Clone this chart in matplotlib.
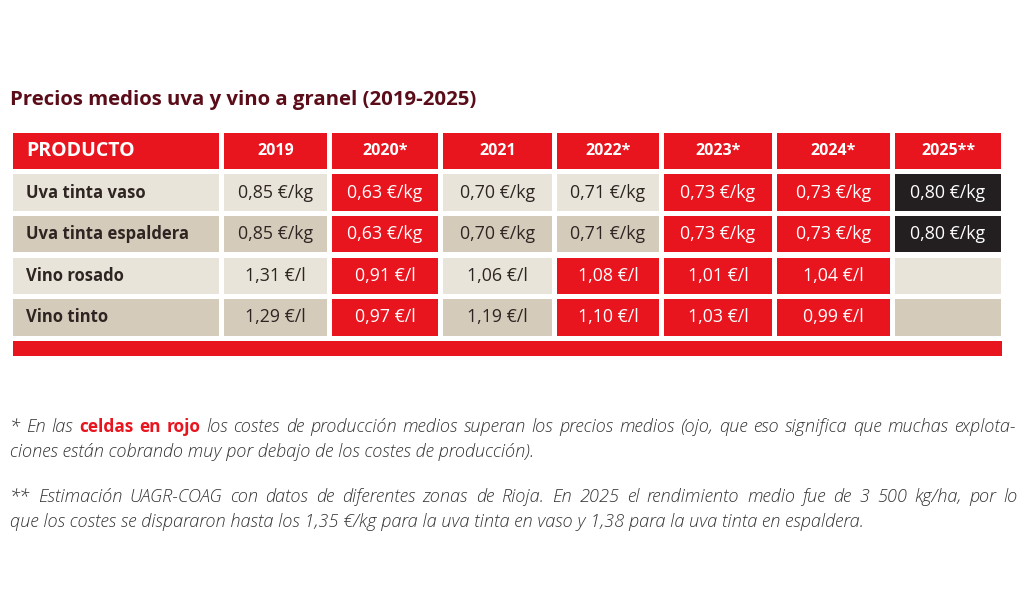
import matplotlib
matplotlib.use("Agg")
import matplotlib.pyplot as plt
from matplotlib.patches import Rectangle

# ---------------- data ----------------
title = "Precios medios uva y vino a granel (2019-2025)"
header_first = "PRODUCTO"
years = ["2019", "2020*", "2021", "2022*", "2023*", "2024*", "2025**"]
products = ["Uva tinta vaso", "Uva tinta espaldera", "Vino rosado", "Vino tinto"]
units = ["€/kg", "€/kg", "€/l", "€/l"]
uva_tinta_vaso = [0.85, 0.63, 0.70, 0.71, 0.73, 0.73, 0.80]
uva_tinta_espaldera = [0.85, 0.63, 0.70, 0.71, 0.73, 0.73, 0.80]
vino_rosado = [1.31, 0.91, 1.06, 1.08, 1.01, 1.04, None]
vino_tinto = [1.29, 0.97, 1.19, 1.10, 1.03, 0.99, None]
values = [uva_tinta_vaso, uva_tinta_espaldera, vino_rosado, vino_tinto]
# cell status: 0 normal, 1 red (costs exceed prices), 2 estimate (2025)
status_vaso = [0, 1, 0, 0, 1, 1, 2]
status_espaldera = [0, 1, 0, 0, 1, 1, 2]
status_rosado = [0, 1, 0, 1, 1, 1, 0]
status_tinto = [0, 1, 0, 1, 1, 1, 0]
status = [status_vaso, status_espaldera, status_rosado, status_tinto]

note1_a = "* En las"
note1_b = "celdas en rojo"
note1_c = "los costes de producción medios superan los precios medios (ojo, que eso significa que muchas explota-"
note1_d = "ciones están cobrando muy por debajo de los costes de producción)."
note2_a = "** Estimación UAGR-COAG con datos de diferentes zonas de Rioja. En 2025 el rendimiento medio fue de 3 500 kg/ha, por lo"
note2_b = "que los costes se dispararon hasta los 1,35 €/kg para la uva tinta en vaso y 1,38 para la uva tinta en espaldera."

# ---------------- style ----------------
RED = "#e8141e"
LIGHT = "#e9e4da"
DARK = "#d5cbbb"
BLACK = "#231f20"
TXT = "#2e2522"
NOTE = "#333333"
MAROON = "#5a0c18"
FONT = ["Open Sans", "DejaVu Sans"]

col_edges = [(13, 219), (224, 327), (332, 438), (443, 552), (557, 659),
             (664, 772), (777, 890), (895, 1001)]
row_edges = [(133, 169), (174, 211), (216, 252), (258, 294), (299, 336)]
bottom_bar = (13, 1002, 341, 356)

fig = plt.figure(figsize=(10.24, 6.14), dpi=100)
ax = fig.add_axes([0, 0, 1, 1])
ax.set_xlim(0, 1024)
ax.set_ylim(614, 0)
ax.axis("off")

ax.text(10, 100, title, fontsize=14.7, fontweight="bold", color=MAROON,
        family=FONT, va="center", ha="left")

def cell(c, r, color):
    x0, x1 = col_edges[c]
    y0, y1 = row_edges[r]
    ax.add_patch(Rectangle((x0, y0), x1 - x0, y1 - y0, facecolor=color,
                           edgecolor="none"))
    return (x0 + x1) / 2, (y0 + y1) / 2

# header
cx, cy = cell(0, 0, RED)
ax.text(col_edges[0][0] + 13, cy, header_first, fontsize=14, fontweight="bold",
        color="white", family=FONT, va="center", ha="left")
for j, y in enumerate(years):
    cx, cy = cell(j + 1, 0, RED)
    ax.text(cx, cy, y, fontsize=11.5, fontweight="bold", color="white",
            family=FONT, va="center", ha="center")

# body
for i, prod in enumerate(products):
    base = LIGHT if i % 2 == 0 else DARK
    cx, cy = cell(0, i + 1, base)
    ax.text(col_edges[0][0] + 13, cy, prod, fontsize=12, fontweight="bold",
            color=TXT, family=FONT, va="center", ha="left")
    for j, v in enumerate(values[i]):
        s = status[i][j]
        color = {0: base, 1: RED, 2: BLACK}[s]
        cx, cy = cell(j + 1, i + 1, color)
        if v is None:
            continue
        label = f"{v:.2f}".replace(".", ",") + " " + units[i]
        ax.text(cx, cy, label, fontsize=12.8, color=("white" if s else TXT),
                family=FONT, va="center", ha="center")

x0, x1, y0, y1 = bottom_bar
ax.add_patch(Rectangle((x0, y0), x1 - x0, y1 - y0, facecolor=RED, edgecolor="none"))

# footnotes (first line of each paragraph justified)
NFS = 13.1
renderer = fig.canvas.get_renderer()
norm = dict(fontsize=NFS, family=FONT, style="italic", fontweight="light", color=NOTE)
bold = dict(fontsize=12.4, family=FONT, fontweight="bold", color=RED)

def words_of(segments):
    out = []
    for text, st in segments:
        for w in text.split(" "):
            out.append((w, st))
    return out

def justified(segments, y, left=10, right=1016):
    items = words_of(segments)
    arts = [ax.text(left, y, w, va="baseline", ha="left", **st) for w, st in items]
    widths = [a.get_window_extent(renderer).width for a in arts]
    gap = (right - left - sum(widths)) / (len(arts) - 1)
    x = left
    for a, w in zip(arts, widths):
        a.set_x(x)
        x += w + gap

def plain(text, y, left=10):
    ax.text(left, y, text, va="baseline", ha="left", **norm)

justified([(note1_a, norm), (note1_b, bold), (note1_c, norm)], 432)
plain(note1_d, 457)
justified([(note2_a, norm)], 502, right=1018)
plain(note2_b, 527)

fig.savefig("out.png", dpi=100)
